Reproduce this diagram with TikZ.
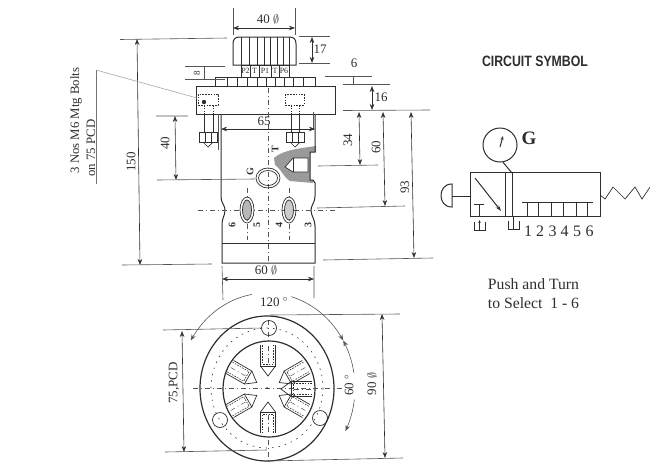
\documentclass[tikz,border=0pt]{standalone}
\usepackage{fontspec}
\setmainfont{Liberation Serif}
\newfontfamily\titlefont{Liberation Sans}
\usetikzlibrary{arrows.meta}
\definecolor{ink}{HTML}{2E2E2E}
\definecolor{dimc}{HTML}{555555}
\definecolor{hatchc}{HTML}{9A9A9A}
\tikzset{
  part/.style={draw=ink,line width=1pt},
  thin part/.style={draw=ink,line width=.7pt},
  dimline/.style={draw=dimc,line width=.6pt},
  dimarrow/.style={draw=ink,line width=.6pt,{Stealth[length=6pt,width=4.5pt]}-{Stealth[length=6pt,width=4.5pt]}},
  centre/.style={draw=dimc,line width=.5pt,dash pattern=on 5pt off 3pt on 1pt off 3pt},
  hidden/.style={draw=ink,line width=.6pt,dash pattern=on 1.6pt off 1.2pt},
  lab/.style={font=\fontsize{13}{13}\selectfont,text=ink,inner sep=0pt},
  smalllab/.style={font=\fontsize{8}{8}\selectfont,text=ink,inner sep=0pt},
  vlab/.style={lab,rotate=90},
}
\begin{document}
\begin{tikzpicture}[x=1pt,y=-1pt]
\useasboundingbox (0,0) rectangle (650,469);
% ---------- knob
\draw[part] (233,65) -- (233,44) .. controls (233,39) and (235,37) .. (240,37) -- (289,37) .. controls (294,37) and (296,39) .. (296,44) -- (296,65) -- cycle;
\foreach \x in {241.7,249,257,264,270,277,283,289} \draw[part] (\x,37) -- (\x,65);
% ---------- port block
\draw[thin part] (241,65) rectangle (289,77);
\foreach \x in {250,259,271,279} \draw[thin part] (\x,65) -- (\x,77);
\node[smalllab] (p2) at (245.5,71.2) {P2};
\node[smalllab] (t1) at (254.5,71.2) {T};
\node[smalllab] (p1) at (265,71.2) {P1};
\node[smalllab] (t2) at (275,71.2) {T};
\node[smalllab] (p6) at (284,71.2) {P6};
% ---------- toothed ring
\draw[thin part] (215,86) -- (215,77) -- (315,77) -- (315,86);
\foreach \x in {227,237,247,257,266,275,284,293,303} \draw[thin part] (\x,77) -- (\x,86);
% ---------- flange
\draw[part] (196,86) rectangle (335,114);
% counterbores
\draw[hidden] (198,94) rectangle (218,105);
\draw[hidden] (285,94) rectangle (304,105);
\fill[ink] (204,102) circle (2.2);
\draw[hidden] (204,105) -- (204,114) (213,105) -- (213,114);
\draw[hidden] (291,105) -- (291,114) (299,105) -- (299,114);
% ---------- bolts
\draw[thin part] (204,114) -- (204,132) (213,114) -- (213,132);
\draw[thin part] (199,132) rectangle (217,142);
\draw[thin part] (205,132) -- (205,142) (211,132) -- (211,142);
\draw[thin part] (203,142) -- (208,147) -- (213,142);
\draw[thin part] (291,114) -- (291,132) (299,114) -- (299,132);
\draw[thin part] (286,132) rectangle (304,142);
\draw[thin part] (292,132) -- (292,142) (298,132) -- (298,142);
\draw[thin part] (290,142) -- (295,147) -- (300,142);
% ---------- body
\fill[hatchc] (316,146) .. controls (302,148) and (282,150) .. (274,158) -- (275,165) .. controls (282,170) and (284,178) .. (290,181) -- (313,183) -- (313,180) -- (310,180) -- (310,152) -- (316,152) -- cycle;
\fill[white] (285,167) -- (293,158) -- (308,158) -- (308,172) -- (293,172) -- cycle;
\draw[thin part] (285,167) -- (293,158) -- (308,158) -- (308,172) -- (293,172) -- cycle;
\draw[thin part] (293,158) -- (293,172);
\draw[part] (221,114) -- (221,197) .. controls (221,203) and (225,205) .. (225,210) .. controls (225,216) and (222,218) .. (222,224) -- (222,263) -- (315,263) -- (315,226) .. controls (315,219) and (311,216) .. (311,210) .. controls (311,205) and (315,203) .. (315,196) -- (315,183) -- (313,180) -- (310,180) -- (310,152) -- (315,152) -- (315,114);
\draw[part] (222,243) -- (315,243);
% ---------- centre lines
\draw[centre] (268,88) -- (268,262);
\draw[centre] (198,210) -- (335,210);
\draw[centre] (247,188) -- (247,240);
\draw[centre] (289,188) -- (289,240);
% ports
\draw[thin part] (268,178) ellipse [x radius=12,y radius=10];
\draw[thin part] (268,178) ellipse [x radius=9.5,y radius=7.5];
\draw[thin part] (247,210) ellipse [x radius=7,y radius=13];
\filldraw[thin part,fill=hatchc!70] (247,210) ellipse [x radius=4.5,y radius=10];
\draw[thin part] (289,210) ellipse [x radius=7,y radius=13];
\filldraw[thin part,fill=hatchc!50] (289,210) ellipse [x radius=4.5,y radius=10];
\node[vlab,font=\fontsize{10}{10}\selectfont\bfseries] (g) at (250,172) {G};
\node[vlab,font=\fontsize{10}{10}\selectfont\bfseries] (tp) at (275,149) {T};
\foreach \x/\n in {232/6,257/5,279/4,308/3}
  \node[vlab,font=\fontsize{10}{10}\selectfont\bfseries] (n\n) at (\x,225) {\n};
% ---------- dimensions, top view
\draw[dimline] (233,8) -- (233,35) (295,8) -- (295,35);
\draw[dimarrow] (233,28) -- (295,28);
\node[lab] (d40d) at (268,19) {40 $\emptyset$};
\draw[dimline] (299,36) -- (330,36) (299,63) -- (330,63);
\draw[dimarrow] (312,37) -- (312,63);
\node[lab] (d17) at (320,49) {17};
\draw[dimline] (185,66) -- (225,66) (185,79) -- (225,79) (204,66) -- (204,79);
\node[vlab,font=\fontsize{9}{9}\selectfont] (d8) at (197,73) {8};
\draw[dimline] (325,76) -- (372,76) (343,84) -- (390,84) (353,76) -- (353,84);
\node[lab] (d6) at (354,63) {6};
\draw[dimline] (343,110.5) -- (430,110);
\draw[dimarrow] (372,86) -- (372,110);
\node[lab] (d16) at (381,97) {16};
\draw[dimline] (218,114) -- (218,150) (313,112) -- (313,130);
\draw[dimarrow] (221,129) -- (315,129);
\node[lab] (d65) at (264,121) {65};
\draw[dimline] (156,116) -- (188,116) (157,180) -- (255,179);
\draw[dimarrow] (175,116) -- (176,180);
\node[vlab] (d40) at (165,143) {40};
\draw[dimline] (120,39.5) -- (227,38) (122,265) -- (212,264);
\draw[dimarrow] (137,39) -- (140,265);
\node[vlab] (d150) at (131,162) {150};
\draw[dimline] (318,166) -- (378,165) (317,208) -- (405,206) (323,260) -- (433,258);
\draw[dimarrow] (359,112) -- (360,165);
\node[vlab] (d34) at (348,140) {34};
\draw[dimarrow] (383,112) -- (385,206);
\node[vlab] (d60) at (376,147) {60};
\draw[dimarrow] (411,112) -- (414,258);
\node[vlab] (d93) at (405,187) {93};
\draw[dimline] (222,266) -- (223,300) (314,266) -- (314,298);
\draw[dimarrow] (222,279) -- (314,279);
\node[lab] (d60d) at (266,270) {60 $\emptyset$};
% ---------- bolts note
\coordinate (leadC) at (96,184);
\coordinate (leadA) at (96,70);
\coordinate (leadB) at (197,98);
\draw[draw=black!55,line width=.6pt] (leadC) -- (leadA);
\draw[draw=black!35,line width=.6pt] (leadA) -- (leadB);
\node[vlab,font=\fontsize{12.8}{12.8}\selectfont,text=ink] (bolts) at (76,120.5) {3 Nos M6 Mtg Bolts};
\node[vlab,font=\fontsize{12.8}{12.8}\selectfont,text=ink] (pcd) at (91,148) {on 75 PCD};
% ---------- bottom view
\draw[part,line width=1.2pt] (267,388.5) ellipse [x radius=67,y radius=72.5];
\draw[part,line width=1.2pt] (269,389) ellipse [x radius=46,y radius=48];
\draw[hidden,dash pattern=on 1.5pt off 5pt] (267,388) ellipse [x radius=56,y radius=60];
\draw[centre] (193,388) -- (343,388);
\draw[centre] (268,320) -- (268,342) (268,440) -- (268,462);
\foreach \a in {90,150,210,270,30,330,0} {
  \begin{scope}[shift={(268,389)},rotate=\a]
    \draw[thin part] (44,-7.5) -- (23,-7.5) -- (23,7.5) -- (44,7.5);
    \draw[hidden] (44,-5.5) -- (25,-5.5) -- (25,5.5) -- (44,5.5);
    \draw[thin part] (23,-7.5) -- (13,0) -- (23,7.5);
    \draw[centre] (26,0) -- (44,0);
  \end{scope}
}
\draw[thin part] (269,328) circle (7.5);
\draw[thin part] (220,420) circle (7.5);
\draw[thin part] (320,418) circle (7.5);
\fill[ink] (267,388) circle (1);
% ---------- bottom view dimensions
\draw[dimline,{Stealth[length=6pt,width=4.5pt]}-] plot[domain=150:100,samples=24] ({267+88*cos(\x)},{388-95*sin(\x)});
\draw[dimline,-{Stealth[length=6pt,width=4.5pt]}] plot[domain=74:30,samples=24] ({267+88*cos(\x)},{388-95*sin(\x)});
\draw[dimline,{Stealth[length=6pt,width=4.5pt]}-] plot[domain=30:9,samples=14] ({267+88*cos(\x)},{388-95*sin(\x)});
\draw[dimline,-{Stealth[length=6pt,width=4.5pt]}] plot[domain=-7:-27,samples=14] ({267+88*cos(\x)},{388-95*sin(\x)});
\node[lab] (a120) at (274,302) {120 $^{\circ}$};
\node[vlab] (a60) at (349,385) {60 $^{\circ}$};
\draw[dimline] (163,330) -- (262,328) (165,452) -- (267,450);
\draw[dimarrow] (182,331) -- (184,452);
\node[vlab] (d75) at (174,383) {75,PCD};
\draw[dimline] (270,315) -- (400,314) (267,461) -- (403,458);
\draw[dimarrow] (382,314) -- (385,458);
\node[vlab] (d90) at (372,384) {90 $\emptyset$};
% ---------- circuit symbol
\node[inner sep=0pt,text=ink,xscale=.82] (title) at (535,61.5) {\titlefont\fontsize{15}{15}\selectfont\bfseries CIRCUIT SYMBOL};
\draw[part] (470,172) rectangle (600,216);
\draw[part] (505,172) -- (505,216) (512,172) -- (512,216);
\node[draw=ink,line width=1pt,circle,minimum size=34pt,inner sep=0pt] (gauge) at (500,145) {};
\coordinate (gaugeA) at (512,173);
\draw[part] (gauge.280) -- (gaugeA);
\coordinate (needleA) at (500,147);
\coordinate (needleB) at (503,136);
\draw[part,-{Stealth[length=4pt,width=3pt]}] (needleA) -- (needleB);
\node[inner sep=0pt,font=\fontsize{19}{19}\selectfont\bfseries,text=ink] (glabel) at (529,138) {G};
% push button
\draw[part] (452,184) -- (452,207) .. controls (444,207) and (441,201) .. (441,195.5) .. controls (441,190) and (444,184) .. (452,184) -- cycle;
\draw[part] (452,196) -- (470,196);
% flow arrow
\draw[part,-{Stealth[length=6pt,width=4pt]}] (475,178) -- (501,211);
% T at left, exhausts
\draw[part] (474,204) -- (484,204) (479,204) -- (479,216);
\draw[thin part] (474,222) -- (474,230) -- (485,230) -- (485,222);
\draw[thin part,-{Stealth[length=3pt,width=2.5pt]}] (479.5,230) -- (479.5,220);
\draw[thin part] (508,221) -- (508,229) -- (519,229) -- (519,221) (513.5,216) -- (513.5,229);
% six outlets
\draw[part] (522,202) -- (593,202);
\foreach \x in {527,538,551,563,576,587} \draw[part] (\x,202) -- (\x,216);
\foreach \x/\n in {528/1,540/2,552.5/3,564.5/4,577/5,589.5/6}
  \node[inner sep=0pt,font=\fontsize{16}{16}\selectfont,text=ink] (o\n) at (\x,231) {\n};
% spring
\coordinate (sprA) at (600,195);
\coordinate (sprB) at (650,187);
\draw[thin part] (sprA) -- (605,199) -- (613,187) -- (625,199) -- (635,187) -- (642,199) -- (sprB);
% note
\node[inner sep=0pt,font=\fontsize{15.7}{15.7}\selectfont,text=ink] (note1) at (533.5,284) {Push and Turn};
\node[inner sep=0pt,font=\fontsize{15.7}{15.7}\selectfont,text=ink] (note2) at (533.5,303) {to Select\ \ 1 - 6};
\end{tikzpicture}
\end{document}
